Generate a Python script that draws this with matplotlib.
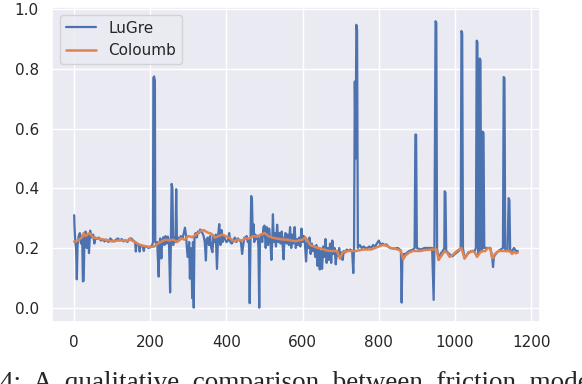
import matplotlib
matplotlib.use('Agg')
import matplotlib.pyplot as plt
import seaborn as sns

# LuGre friction estimate (x = sample index)
lugre_x = [0, 1, 3, 5, 7, 9, 12, 15, 18, 21, 23, 25, 27, 30, 33, 36, 39, 42, 45, 50, 53, 56, 60,
           65, 70, 75, 80, 85, 90, 95, 100, 105, 110, 115, 120, 125, 130, 135, 140, 145, 150, 155,
           160, 162, 164, 170, 172, 174, 180, 183, 185, 190, 195, 200, 205,
           207, 208, 210, 212, 213, 216, 218,
           222, 224, 226, 229, 231, 234, 237, 240, 243, 246, 249, 252, 254, 256, 258, 260, 263,
           266, 268, 270, 273, 276, 280, 284, 288, 291, 294, 296, 298, 300, 302, 304, 306, 308,
           310, 312, 314, 316, 319, 322, 325, 328, 331, 334, 337, 340, 343, 346, 348, 351, 354,
           357, 360, 363, 366, 369, 372, 375, 378, 381, 384, 387, 390, 393, 396, 400, 404, 407,
           410, 414, 418, 422, 426, 430, 434, 438, 441, 444, 447, 450, 453, 456, 459, 461, 463,
           465, 467, 469, 471, 473, 476, 479, 482, 484, 486, 488, 491, 494, 497, 500, 503, 506,
           509, 512, 515, 518, 520, 522, 524, 527, 530, 533, 536, 539, 542, 545, 548, 550, 552,
           555, 558, 561, 564, 567, 570, 573, 576, 579, 582, 585, 588, 591, 594, 597, 600, 603,
           606, 609, 612, 615, 618, 621, 624, 627, 630, 633, 636, 639, 642, 645, 648, 651, 654,
           657, 660, 663, 666, 669, 672, 675, 678, 681, 684, 687, 690, 693, 696, 699, 702, 705,
           708, 712, 716, 720, 725, 730, 733, 735, 737, 739, 741, 743, 745, 750, 755, 760, 765,
           770, 775, 780, 785, 790, 795, 800, 805, 810, 815, 820, 825, 830, 840, 850, 855, 858,
           860, 862, 866, 870, 880, 890, 894, 896, 898, 900, 910, 920, 930, 940, 944, 946, 949,
           951, 953, 957, 962, 968, 972, 973, 975, 977, 985, 993, 1000, 1010, 1015, 1017, 1019,
           1021, 1025, 1035, 1045, 1052, 1055, 1057, 1059, 1061, 1063, 1065, 1067, 1069, 1072,
           1073, 1075, 1077, 1085, 1093, 1098, 1100, 1102, 1110, 1120, 1126, 1128, 1130, 1132,
           1138, 1141, 1143, 1145, 1150, 1155, 1160, 1165]
lugre_y = [0.31, 0.27, 0.22, 0.20, 0.095, 0.21, 0.24, 0.25, 0.215, 0.24, 0.088, 0.09, 0.23, 0.255,
           0.20, 0.245, 0.183, 0.258, 0.235, 0.245, 0.215, 0.235, 0.23,
           0.235, 0.225, 0.228, 0.222, 0.228, 0.22, 0.232, 0.225, 0.222, 0.228, 0.232, 0.225,
           0.23, 0.222, 0.226, 0.22, 0.23, 0.232, 0.225,
           0.22, 0.188, 0.215, 0.21, 0.188, 0.21, 0.205, 0.19, 0.205, 0.205, 0.20, 0.203, 0.21,
           0.22, 0.77, 0.775, 0.76, 0.22, 0.215, 0.22,
           0.104, 0.215, 0.232, 0.165, 0.22, 0.236, 0.21, 0.24, 0.215, 0.238, 0.22, 0.051, 0.22,
           0.415, 0.40, 0.21, 0.235, 0.22, 0.397, 0.22, 0.235, 0.225, 0.24, 0.23, 0.25, 0.268,
           0.24, 0.20, 0.17, 0.175, 0.22, 0.097, 0.20, 0.175, 0.032, 0.22, 0.0, 0.24, 0.25,
           0.235, 0.255, 0.25, 0.262, 0.255, 0.25, 0.24, 0.22, 0.158, 0.23, 0.235, 0.21, 0.24,
           0.20, 0.186, 0.24, 0.22, 0.245, 0.13, 0.24, 0.28, 0.21, 0.26, 0.22, 0.24, 0.23, 0.22,
           0.225, 0.25, 0.22, 0.215, 0.225, 0.235, 0.22, 0.232, 0.225, 0.22, 0.18, 0.21, 0.235,
           0.23, 0.24, 0.22, 0.23, 0.015, 0.22, 0.374, 0.36, 0.24, 0.28, 0.22, 0.245, 0.23, 0.24,
           0.20, 0.0, 0.23, 0.24, 0.22, 0.27, 0.275, 0.20, 0.27, 0.21, 0.265, 0.225, 0.16, 0.22,
           0.313, 0.22, 0.25, 0.205, 0.278, 0.22, 0.25, 0.215, 0.255, 0.20, 0.162, 0.23, 0.25,
           0.215, 0.245, 0.21, 0.27, 0.20, 0.245, 0.215, 0.27, 0.20, 0.23, 0.21, 0.235, 0.205,
           0.265, 0.22, 0.24, 0.215, 0.155, 0.22, 0.20, 0.235, 0.18, 0.215, 0.19, 0.205, 0.17,
           0.21, 0.14, 0.20, 0.128, 0.19, 0.13, 0.205, 0.17, 0.23, 0.15, 0.20, 0.16, 0.215, 0.15,
           0.225, 0.18, 0.20, 0.145, 0.19, 0.175, 0.20, 0.165, 0.185, 0.16, 0.19, 0.185, 0.195,
           0.19, 0.195, 0.19, 0.116, 0.20, 0.758, 0.50, 0.948, 0.93, 0.20, 0.21, 0.20, 0.205,
           0.20, 0.20, 0.205, 0.20, 0.21, 0.205, 0.215, 0.225, 0.21, 0.215, 0.21, 0.212, 0.205,
           0.20, 0.198, 0.20, 0.195, 0.19, 0.017, 0.17, 0.18, 0.18, 0.19, 0.195, 0.20, 0.58, 0.58,
           0.20, 0.195, 0.20, 0.20, 0.20, 0.026, 0.20, 0.96, 0.955, 0.20, 0.16, 0.18, 0.19, 0.20,
           0.39, 0.385, 0.19, 0.18, 0.172, 0.18, 0.19, 0.20, 0.927, 0.92, 0.20, 0.165, 0.185,
           0.19, 0.19, 0.20, 0.895, 0.89, 0.18, 0.20, 0.835, 0.83, 0.19, 0.20, 0.59, 0.585, 0.20,
           0.20, 0.20, 0.165, 0.136, 0.17, 0.185, 0.195, 0.20, 0.773, 0.77, 0.19, 0.19, 0.367,
           0.36, 0.19, 0.19, 0.20, 0.19, 0.19]

# Coulomb friction estimate
coul_x = [0, 10, 20, 25, 30, 40, 50, 60, 70, 80, 90, 100, 110, 120, 130, 140, 146, 150, 160,
          170, 180, 190, 200, 210, 220, 230, 240, 250, 260, 270, 280, 290, 300, 310, 320, 330,
          340, 350, 360, 370, 380, 390, 400, 410, 420, 430, 440, 450, 460, 470, 480, 490, 500,
          510, 520, 530, 540, 550, 560, 570, 580, 590, 600, 607, 615, 620, 630, 640, 650, 660,
          670, 680, 690, 698, 705, 712, 720, 740, 760, 780, 790, 800, 810, 820, 830, 840, 850,
          858, 864, 870, 880, 890, 900, 910, 920, 940, 952, 957, 965, 973, 980, 986, 995, 1005,
          1017, 1025, 1035, 1045, 1052, 1058, 1068, 1080, 1086, 1093, 1098, 1105, 1115, 1125,
          1135, 1145, 1150, 1155, 1160, 1165]
coul_y = [0.222, 0.225, 0.235, 0.25, 0.24, 0.25, 0.235, 0.232, 0.23, 0.228, 0.225, 0.222, 0.224,
          0.226, 0.225, 0.223, 0.232, 0.226, 0.22, 0.212, 0.208, 0.205, 0.203, 0.205, 0.215,
          0.222, 0.228, 0.225, 0.228, 0.22, 0.232, 0.228, 0.24, 0.236, 0.245, 0.255, 0.26,
          0.252, 0.248, 0.235, 0.24, 0.245, 0.238, 0.232, 0.222, 0.228, 0.225, 0.232, 0.232,
          0.24, 0.238, 0.245, 0.25, 0.24, 0.235, 0.232, 0.23, 0.228, 0.228, 0.225, 0.223, 0.225,
          0.228, 0.236, 0.22, 0.21, 0.205, 0.20, 0.198, 0.193, 0.19, 0.19, 0.19, 0.165, 0.185,
          0.188, 0.19, 0.19, 0.195, 0.195, 0.20, 0.205, 0.21, 0.208, 0.20, 0.198, 0.195, 0.19,
          0.162, 0.175, 0.185, 0.19, 0.19, 0.19, 0.193, 0.195, 0.195, 0.16, 0.175, 0.19, 0.183,
          0.17, 0.178, 0.19, 0.20, 0.165, 0.182, 0.19, 0.185, 0.17, 0.188, 0.19, 0.20, 0.198,
          0.165, 0.18, 0.19, 0.19, 0.19, 0.188, 0.18, 0.188, 0.182, 0.185]

sns.set_theme(style='darkgrid')
plt.rcParams['font.family'] = ['DejaVu Sans']

fig = plt.figure(figsize=(5.82, 3.84), dpi=100)
ax = fig.add_axes([0.0893, 0.1615, 0.8385, 0.8205])
ax.plot(lugre_x, lugre_y, lw=1.6, label='LuGre')
ax.plot(coul_x, coul_y, lw=1.8, label='Coloumb')
ax.set_yticks([0.0, 0.2, 0.4, 0.6, 0.8, 1.0])
ax.legend(loc='upper left')

fig.text(0.0, 1 - 390/384, '4:  A  qualitative  comparison  between  friction  models',
         family='Liberation Serif', fontsize=19.5, va='baseline', ha='left')

fig.savefig('out.png', dpi=100)
